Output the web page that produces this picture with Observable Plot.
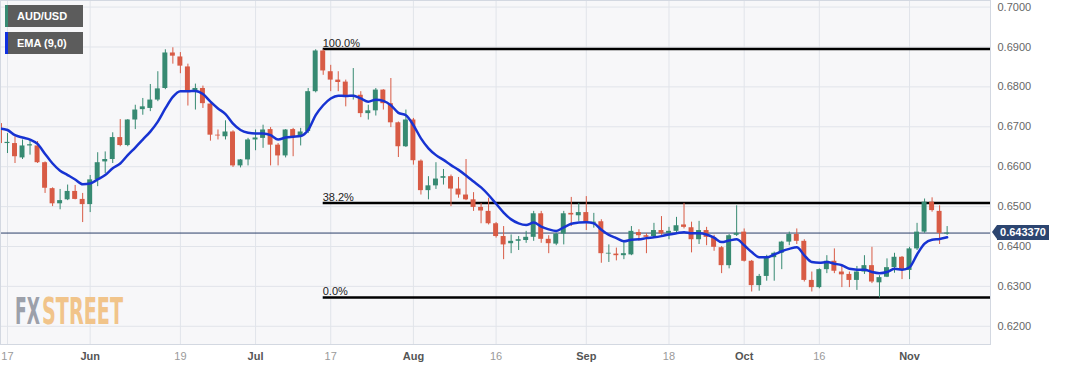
<!DOCTYPE html>
<html>
<head>
<meta charset="utf-8">
<script src="https://cdn.jsdelivr.net/npm/d3@7"></script>
<script src="https://cdn.jsdelivr.net/npm/@observablehq/plot@0.6"></script>
<style>
  body { margin: 0; background: #fff; font-family: "Liberation Sans", Arial, sans-serif; }
  #wrap { position: relative; width: 1067px; height: 370px; overflow: hidden; background: #fff; }
  .leg { position: absolute; left: 5px; width: 78px; height: 22px; background: #5c5c5c; color: #fff;
         font-weight: bold; font-size: 11px; line-height: 22px; box-sizing: border-box; padding-left: 12px; }
  .leg .bar { position: absolute; left: 0; top: 0; width: 3px; height: 100%; }
  #tag { position: absolute; left: 997px; width: 52px; height: 15px; background: #2c4570; color: #fff;
         font-weight: bold; font-size: 11px; line-height: 15px; text-align: center; }
  #tag::before { content: ""; position: absolute; left: -5px; top: 0; border-top: 7.5px solid transparent;
         border-bottom: 7.5px solid transparent; border-right: 5px solid #2c4570; }
  #logo { position: absolute; left: 0; top: 0; pointer-events: none; }
</style>
</head>
<body>
<div id="wrap"></div>
<script>
// ---- data (daily candles, index 0 = 17 May) ----
const startIndex = -1;
const open = [0.6708,0.6658,0.6658,0.6622,0.6652,0.6652,0.6610,0.6545,0.6507,0.6517,0.6538,0.6518,0.6505,0.6567,0.6612,0.6618,0.6673,0.6653,0.6717,0.6743,0.6746,0.6767,0.6796,0.6885,0.6875,0.6850,0.6788,0.6796,0.6757,0.6679,0.6675,0.6687,0.6602,0.6617,0.6667,0.6671,0.6693,0.6654,0.6627,0.6693,0.6675,0.6688,0.6788,0.6890,0.6838,0.6817,0.6812,0.6777,0.6779,0.6733,0.6740,0.6792,0.6758,0.6710,0.6650,0.6717,0.6614,0.6540,0.6552,0.6571,0.6575,0.6544,0.6529,0.6517,0.6498,0.6488,0.6457,0.6425,0.6407,0.6413,0.6415,0.6423,0.6482,0.6418,0.6406,0.6431,0.6483,0.6477,0.6485,0.6458,0.6462,0.6381,0.6381,0.6377,0.6379,0.6435,0.6427,0.6425,0.6440,0.6433,0.6438,0.6454,0.6447,0.6417,0.6440,0.6422,0.6397,0.6352,0.6428,0.6436,0.6363,0.6302,0.6325,0.6372,0.6383,0.6411,0.6430,0.6413,0.6315,0.6297,0.6342,0.6363,0.6336,0.6330,0.6315,0.6336,0.6352,0.6309,0.6323,0.6347,0.6373,0.6340,0.6394,0.6436,0.6511,0.6488,0.6431];
const high = [0.6715,0.6683,0.6675,0.6667,0.6667,0.6663,0.6612,0.6547,0.6543,0.6554,0.6553,0.6533,0.6578,0.6635,0.6637,0.6685,0.6718,0.6718,0.6754,0.6771,0.6806,0.6838,0.6893,0.6898,0.6886,0.6857,0.6807,0.6802,0.6758,0.6692,0.6715,0.6690,0.6618,0.6671,0.6692,0.6704,0.6698,0.6658,0.6693,0.6696,0.6696,0.6796,0.6893,0.6893,0.6854,0.6838,0.6817,0.6846,0.6788,0.6754,0.6796,0.6793,0.6821,0.6712,0.6742,0.6721,0.6617,0.6575,0.6610,0.6593,0.6579,0.6573,0.6618,0.6535,0.6508,0.6521,0.6460,0.6450,0.6429,0.6425,0.6438,0.6488,0.6488,0.6427,0.6433,0.6488,0.6523,0.6508,0.6525,0.6483,0.6467,0.6404,0.6396,0.6413,0.6450,0.6442,0.6432,0.6458,0.6475,0.6448,0.6473,0.6508,0.6461,0.6463,0.6448,0.6428,0.6400,0.6430,0.6502,0.6444,0.6365,0.6330,0.6378,0.6386,0.6413,0.6436,0.6444,0.6417,0.6336,0.6344,0.6377,0.6394,0.6352,0.6336,0.6350,0.6377,0.6398,0.6327,0.6369,0.6383,0.6375,0.6398,0.6458,0.6519,0.6522,0.6502,0.6450];
const low = [0.6650,0.6633,0.6608,0.6618,0.6629,0.6608,0.6533,0.6500,0.6492,0.6515,0.6517,0.6460,0.6485,0.6550,0.6583,0.6608,0.6650,0.6650,0.6693,0.6729,0.6738,0.6763,0.6793,0.6857,0.6833,0.6752,0.6742,0.6746,0.6664,0.6667,0.6667,0.6598,0.6597,0.6602,0.6640,0.6646,0.6602,0.6602,0.6622,0.6625,0.6652,0.6683,0.6785,0.6829,0.6788,0.6788,0.6750,0.6767,0.6723,0.6717,0.6727,0.6742,0.6698,0.6623,0.6648,0.6604,0.6529,0.6517,0.6543,0.6554,0.6500,0.6521,0.6515,0.6488,0.6457,0.6454,0.6421,0.6367,0.6382,0.6390,0.6408,0.6413,0.6408,0.6382,0.6402,0.6404,0.6450,0.6463,0.6440,0.6446,0.6358,0.6360,0.6364,0.6367,0.6377,0.6413,0.6382,0.6423,0.6428,0.6417,0.6432,0.6444,0.6384,0.6405,0.6402,0.6388,0.6332,0.6344,0.6425,0.6361,0.6286,0.6288,0.6313,0.6313,0.6342,0.6402,0.6405,0.6311,0.6286,0.6294,0.6332,0.6332,0.6297,0.6297,0.6290,0.6330,0.6307,0.6271,0.6322,0.6333,0.6317,0.6317,0.6390,0.6433,0.6486,0.6405,0.6428];
const close = [0.6658,0.6661,0.6625,0.6652,0.6655,0.6610,0.6546,0.6507,0.6515,0.6538,0.6518,0.6505,0.6567,0.6610,0.6618,0.6673,0.6653,0.6717,0.6742,0.6750,0.6767,0.6795,0.6885,0.6877,0.6852,0.6789,0.6796,0.6758,0.6679,0.6677,0.6687,0.6602,0.6617,0.6667,0.6672,0.6692,0.6654,0.6627,0.6692,0.6673,0.6687,0.6788,0.6890,0.6840,0.6817,0.6811,0.6775,0.6779,0.6733,0.6740,0.6792,0.6758,0.6710,0.6650,0.6717,0.6615,0.6540,0.6552,0.6569,0.6575,0.6544,0.6529,0.6517,0.6498,0.6489,0.6457,0.6425,0.6404,0.6413,0.6417,0.6423,0.6482,0.6418,0.6407,0.6431,0.6482,0.6479,0.6485,0.6460,0.6461,0.6382,0.6383,0.6377,0.6382,0.6438,0.6427,0.6423,0.6440,0.6432,0.6438,0.6452,0.6448,0.6417,0.6440,0.6423,0.6398,0.6352,0.6427,0.6433,0.6363,0.6302,0.6325,0.6372,0.6383,0.6411,0.6430,0.6413,0.6315,0.6297,0.6342,0.6363,0.6338,0.6329,0.6315,0.6336,0.6352,0.6311,0.6322,0.6347,0.6373,0.6340,0.6394,0.6436,0.6511,0.6490,0.6433,0.64337];
const ema = [0.6696,0.6692,0.6679,0.6673,0.6668,0.6657,0.6632,0.6608,0.6590,0.6579,0.6568,0.6556,0.6558,0.6568,0.6579,0.6596,0.6608,0.6629,0.6648,0.6668,0.6688,0.6713,0.6746,0.6775,0.6789,0.6789,0.6790,0.6782,0.6763,0.6746,0.6732,0.6708,0.6692,0.6685,0.6683,0.6683,0.6679,0.6668,0.6673,0.6675,0.6677,0.6692,0.6729,0.6754,0.6771,0.6778,0.6777,0.6778,0.6771,0.6763,0.6768,0.6765,0.6754,0.6735,0.6729,0.6704,0.6671,0.6646,0.6629,0.6617,0.6604,0.6592,0.6578,0.6563,0.6548,0.6529,0.6507,0.6485,0.6468,0.6458,0.6454,0.6460,0.6450,0.6443,0.6439,0.6448,0.6457,0.6460,0.6461,0.6458,0.6442,0.6429,0.6421,0.6413,0.6417,0.6418,0.6421,0.6423,0.6426,0.6430,0.6433,0.6436,0.6433,0.6433,0.6430,0.6422,0.6411,0.6415,0.6418,0.6403,0.6386,0.6373,0.6373,0.6380,0.6388,0.6394,0.6398,0.6378,0.6361,0.6359,0.6361,0.6357,0.6353,0.6344,0.6342,0.6342,0.6336,0.6333,0.6336,0.6344,0.6342,0.6348,0.6380,0.6407,0.6417,0.6419,0.6423];
const lastPrice = 0.64337;
const lastLabel = "0.643370";

const dateTicks = [0, 11, 23, 33, 43, 54, 65, 77, 88, 98, 108, 120];
const dateLabels = ["17", "Jun", "19", "Jul", "17", "Aug", "16", "Sep", "18", "Oct", "16", "Nov"];
const monthLabels = ["Jun", "Jul", "Aug", "Sep", "Oct", "Nov"];
const priceTicks = [0.62, 0.63, 0.64, 0.65, 0.66, 0.67, 0.68, 0.69, 0.70];

const fibLevels = [0.6895, 0.6509, 0.6272];
const fibLabels = ["100.0%", "38.2%", "0.0%"];
const fibStart = 42;

const seriesName = "AUD/USD";
const emaName = "EMA (9,0)";
const logoParts = ["FX", "STREET"];

// ---- build ----
const G = "#378a72", R = "#d85b45", BLUE = "#1733d2";
const candles = close.map((c, k) => {
  const o = open[k];
  let lo = Math.min(o, c), hi = Math.max(o, c);
  if (hi - lo < 0.00004) { const m = (hi + lo) / 2; lo = m - 0.00002; hi = m + 0.00002; }
  return { i: startIndex + k, o, c, h: high[k], l: low[k], bLo: lo, bHi: hi, up: c >= o };
});
const emaData = ema.map((v, k) => ({ i: startIndex + k, v }));
const labelOf = new Map(dateTicks.map((t, k) => [t, dateLabels[k]]));
const monthTicks = dateTicks.filter((t, k) => monthLabels.includes(dateLabels[k]));
const dayTicks = dateTicks.filter((t, k) => !monthLabels.includes(dateLabels[k]));

const xDomain = [-0.93, 130.77];
const yDomain = [0.61544, 0.70165];

const chart = Plot.plot({
  width: 1067, height: 370,
  marginLeft: 0, marginRight: 77, marginTop: 0, marginBottom: 26,
  style: { fontFamily: '"Liberation Sans", Arial, sans-serif', fontSize: "11px", background: "transparent", overflow: "visible" },
  x: { domain: xDomain, axis: null, label: null },
  y: { domain: yDomain, axis: null, label: null },
  marks: [
    Plot.frame({ fill: "#f7f7f9" }),
    Plot.gridY(priceTicks, { stroke: "#e1e4ea", strokeOpacity: 1 }),
    Plot.gridX(dateTicks, { stroke: "#e1e4ea", strokeOpacity: 1 }),
    Plot.ruleY([lastPrice], { stroke: "#2b3f68", strokeWidth: 1 }),
    Plot.ruleY(fibLevels, { x1: fibStart, x2: xDomain[1], stroke: "#000", strokeWidth: 2.5 }),
    Plot.text(fibLevels, { x: fibStart, y: d => d, text: (d, k) => fibLabels[k], textAnchor: "start", dx: -0.5, dy: -6, fill: "#222", fontSize: 11 }),
    Plot.ruleX(candles, { x: "i", y1: "l", y2: "h", stroke: d => d.up ? G : R, strokeWidth: 1, clip: true }),
    Plot.rect(candles, { x1: d => d.i - 0.33, x2: d => d.i + 0.33, y1: "bLo", y2: "bHi", fill: d => d.up ? G : R, clip: true }),
    Plot.line(emaData, { x: "i", y: "v", stroke: BLUE, strokeWidth: 2.5, curve: "monotone-x", clip: true }),
    Plot.frame({ stroke: "#d3d8e1" }),
    Plot.axisY(priceTicks, { anchor: "right", label: null, tickSize: 0, tickPadding: 7, tickFormat: d3.format(".4f"), fill: "#666", fontSize: 11 }),
    Plot.axisX(dayTicks, { anchor: "bottom", label: null, tickSize: 0, tickPadding: 8, tickFormat: d => labelOf.get(d), fill: "#9a9a9a", fontSize: 11 }),
    Plot.axisX(monthTicks, { anchor: "bottom", label: null, tickSize: 0, tickPadding: 8, tickFormat: d => labelOf.get(d), fill: "#555", fontWeight: "bold", fontSize: 11 })
  ]
});

const wrap = document.getElementById("wrap");
wrap.appendChild(chart);

// legend boxes
[[seriesName, G, 5], [emaName, "#1030e0", 32]].forEach(([t, col, top]) => {
  const d = document.createElement("div");
  d.className = "leg";
  d.style.top = top + "px";
  d.innerHTML = `<span class="bar" style="background:${col}"></span>`;
  d.appendChild(document.createTextNode(t));
  wrap.appendChild(d);
});

// last price tag
const yPix = chart.scale("y").apply(lastPrice);
const tag = document.createElement("div");
tag.id = "tag";
tag.style.top = (yPix - 7.5) + "px";
tag.textContent = lastLabel;
wrap.appendChild(tag);

// watermark logo: two separate words, each squeezed horizontally to its width
const ns = "http://www.w3.org/2000/svg";
const svg = document.createElementNS(ns, "svg");
svg.setAttribute("id", "logo");
svg.setAttribute("width", 1067);
svg.setAttribute("height", 370);
wrap.appendChild(svg);
[[logoParts[0], 15, 25, "#9ca0aa"], [logoParts[1], 42, 81, "#f1c48a"]].forEach(([t, x, w, col]) => {
  const el = document.createElementNS(ns, "text");
  el.setAttribute("font-size", 37);
  el.setAttribute("font-weight", "bold");
  el.setAttribute("font-family", '"Liberation Sans Narrow", "DejaVu Sans Condensed", "Liberation Sans", sans-serif');
  el.setAttribute("fill", col);
  el.textContent = t;
  svg.appendChild(el);
  const natural = el.getComputedTextLength() || w;
  el.setAttribute("transform", `translate(${x},324) scale(${w / natural},1)`);
});
</script>
</body>
</html>
